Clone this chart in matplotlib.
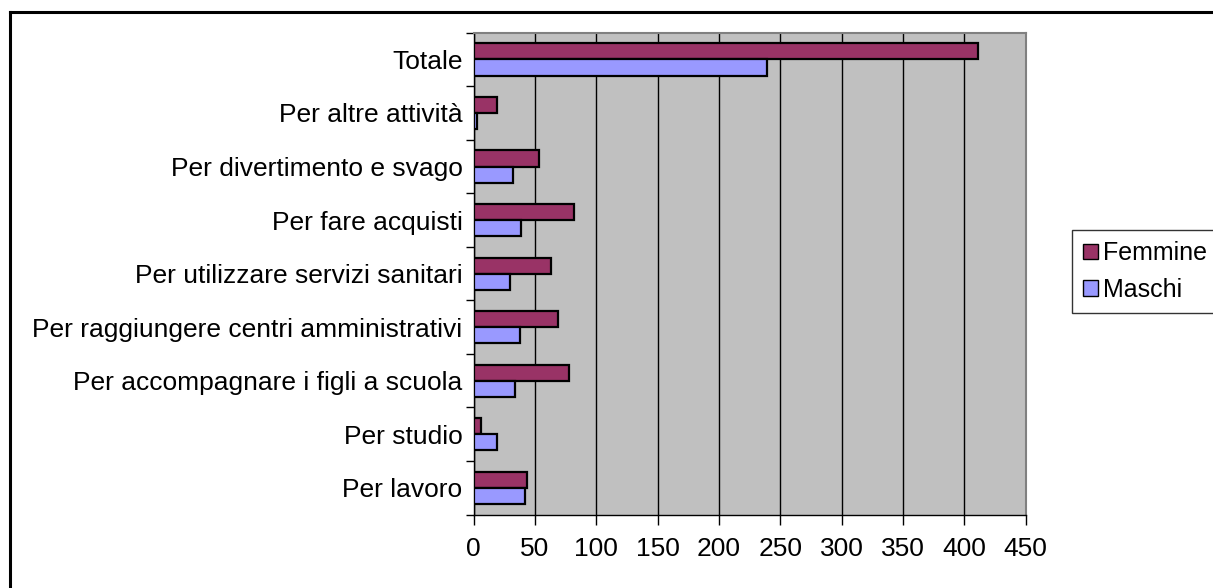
import matplotlib.pyplot as plt
import numpy as np
from matplotlib.lines import Line2D
from matplotlib.patches import Patch

plt.rcParams['font.family'] = ['Liberation Sans', 'DejaVu Sans']

# categories from bottom to top, as drawn
categories = [
    'Per lavoro',
    'Per studio',
    'Per accompagnare i figli a scuola',
    'Per raggiungere centri amministrativi',
    'Per utilizzare servizi sanitari',
    'Per fare acquisti',
    'Per divertimento e svago',
    'Per altre attività',
    'Totale',
]
femmine = [44, 6.5, 78, 68.5, 63.5, 81.5, 53, 19.5, 411]
maschi = [42, 19.5, 34, 37.5, 29.5, 39, 32.5, 3, 239]
xticks = [0, 50, 100, 150, 200, 250, 300, 350, 400, 450]

W, H = 1213, 588
fs = 19
fig = plt.figure(figsize=(W / 100, H / 100), dpi=100)
ax = fig.add_axes([473.5 / W, 1 - 514.5 / H, (1025.7 - 473.5) / W, (514.5 - 32.7) / H])

y = np.arange(len(categories))
bh = 0.3
ax.barh(y + bh / 2, femmine, height=bh, color='#993366', edgecolor='black', linewidth=1.6, label='Femmine', zorder=3)
ax.barh(y - bh / 2, maschi, height=bh, color='#9999FF', edgecolor='black', linewidth=1.6, label='Maschi', zorder=3)

ax.set_facecolor('#C0C0C0')
ax.set_xlim(0, 450)
ax.set_ylim(-0.5, len(categories) - 0.5)
ax.set_xticks(xticks)
ax.set_xticklabels([str(v) for v in xticks], fontsize=fs)
ax.xaxis.grid(True, color='black', linewidth=1.0, zorder=1)
ax.set_axisbelow(True)

ax.set_yticks(y)
ax.set_yticklabels(categories, fontsize=fs)
ax.set_yticks(np.arange(-0.5, len(categories)), minor=True)
ax.tick_params(axis='y', which='major', length=0, pad=8)
ax.tick_params(axis='y', which='minor', length=6, width=1, direction='out')
ax.tick_params(axis='x', length=7, width=1, direction='out', pad=9)

for side in ['top', 'right']:
    ax.spines[side].set_color('#808080')
    ax.spines[side].set_linewidth(1.5)
for side in ['left', 'bottom']:
    ax.spines[side].set_color('black')
    ax.spines[side].set_linewidth(1.0)

# outer chart frame
fig.add_artist(Line2D([9.5 / W, 9.5 / W], [0, 1 - 12 / H], color='black', linewidth=2.2, transform=fig.transFigure))
fig.add_artist(Line2D([9.5 / W, 1], [1 - 12 / H, 1 - 12 / H], color='black', linewidth=2.2, transform=fig.transFigure))

handles = [Patch(facecolor='#993366', edgecolor='black'), Patch(facecolor='#9999FF', edgecolor='black')]
leg = fig.legend(handles, ['Femmine', 'Maschi'], loc='upper left', bbox_to_anchor=(1071.7 / W, 1 - 230 / H),
                 fontsize=18, frameon=True, fancybox=False, edgecolor='black', borderaxespad=0,
                 handlelength=0.6, handleheight=0.6, handletextpad=0.2, labelspacing=0.5,
                 borderpad=0.45)
leg.get_frame().set_linewidth(1.0)

fig.savefig('out.png', dpi=100)
